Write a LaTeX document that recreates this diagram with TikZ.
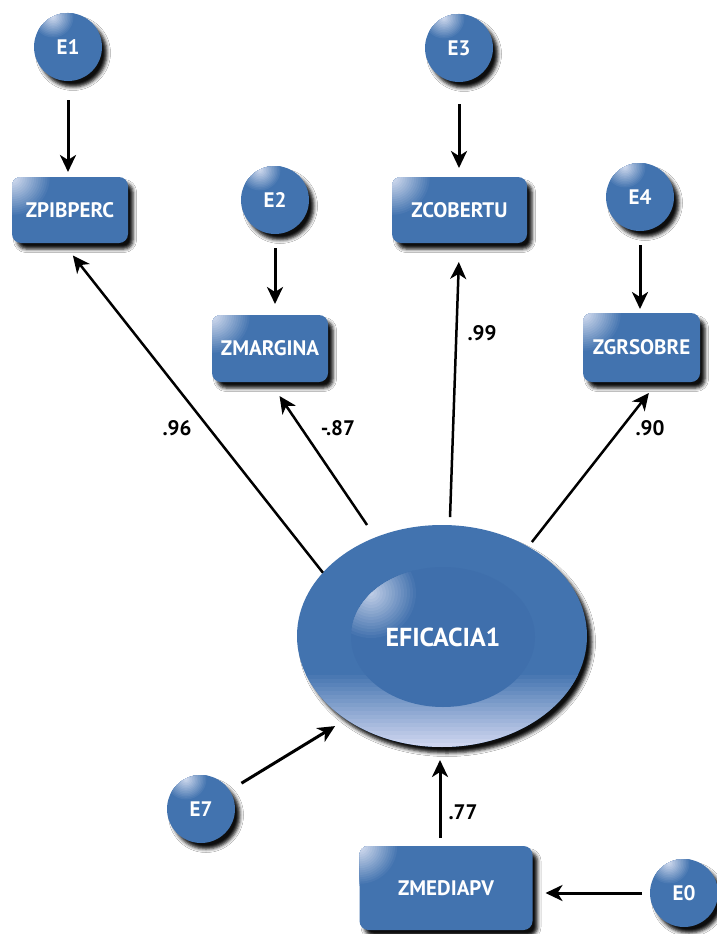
\documentclass[tikz,border=0pt]{standalone}
\usepackage{fontspec}
\setmainfont{PT Sans}
\usetikzlibrary{shapes.geometric, arrows.meta, shadows.blur, calc}
\definecolor{semblue}{RGB}{66,115,175}
\definecolor{hlc}{RGB}{232,235,248}
\definecolor{lavc}{RGB}{206,213,239}
\definecolor{innerblue}{RGB}{63,111,172}
\begin{document}
\begin{tikzpicture}[x=1pt, y=-1pt,
  shd/.style={blur shadow={shadow xshift=5pt, shadow yshift=-6pt, shadow blur radius=3.5pt, shadow opacity=95}},
  obs/.style={rectangle, rounded corners=9pt, fill=semblue, text=white,
    font=\bfseries\fontsize{21}{21}\selectfont, inner sep=0pt, outer sep=0pt, shd,
    path picture={\foreach \k in {0,...,17}{
        \pgfmathsetmacro\pct{95*\k/18}
        \pgfmathsetmacro\rad{40*(1-\k/18)}
        \fill[hlc!\pct!semblue] (path picture bounding box.north west) circle (\rad pt);}}},
  err/.style={circle, fill=semblue, minimum size=68pt, inner sep=0pt, outer sep=0pt, text=white,
    font=\bfseries\fontsize{21}{21}\selectfont, shd,
    path picture={\foreach \k in {0,...,13}{
        \pgfmathsetmacro\pct{90*\k/14}
        \pgfmathsetmacro\rad{22*(1-\k/14)}
        \fill[hlc!\pct!semblue] ([xshift=-15pt,yshift=30pt]path picture bounding box.center) circle (\rad pt);}}},
  coef/.style={font=\bfseries\fontsize{21}{21}\selectfont, text=black, inner sep=0pt},
  arr/.style={-{Stealth[length=17pt, width=16pt, inset=5pt]}, line width=3pt}
]
\fill[white] (0,0) rectangle (717,934);
\useasboundingbox (0,0) rectangle (717,934);

% outer latent ellipse
\node[ellipse, minimum width=290pt, minimum height=222pt, inner sep=0pt, outer sep=0pt, fill=semblue, shd,
  path picture={\foreach \k in {0,...,17}{
      \pgfmathsetmacro\pct{100-100*\k/18}
      \fill[lavc!\pct!semblue] ([yshift=\k*4pt]path picture bounding box.south west) rectangle ([yshift=\k*4pt+4.4pt]path picture bounding box.south east);}}]
  (ell) at (442,636) {};
\node[ellipse, minimum width=184pt, minimum height=140pt, inner sep=0pt, outer sep=0pt, fill=innerblue, text=white,
  font=\bfseries\fontsize{26}{26}\selectfont,
  path picture={\foreach \k in {0,...,15}{
      \pgfmathsetmacro\pct{80*\k/16}
      \pgfmathsetmacro\rad{48*(1-\k/16)}
      \fill[hlc!\pct!innerblue] ([xshift=-72pt,yshift=44pt]path picture bounding box.center) circle (\rad pt);}}]
  (eff) at (443,637) {EFICACIA1};

% observed variables
\node[obs, minimum width=116pt, minimum height=66pt] (zpib) at (70,210) {ZPIBPERC};
\node[obs, minimum width=116pt, minimum height=67pt] (zmarg) at (270,348.5) {ZMARGINA};
\node[obs, minimum width=135pt, minimum height=66pt] (zcob) at (459.5,210) {ZCOBERTU};
\node[obs, minimum width=117pt, minimum height=69pt] (zgrs) at (641.5,347.5) {ZGRSOBRE};
\node[obs, minimum width=173pt, minimum height=84pt] (zmed) at (446,888) {ZMEDIAPV};

% error terms
\node[err] (e1) at (68,47) {E1};
\node[err] (e2) at (275,200) {E2};
\node[err] (e3) at (459,48) {E3};
\node[err] (e4) at (640,197) {E4};
\node[err] (e7) at (201,809) {E7};
\node[err] (e0) at (684,893) {E0};

% error arrows
\draw[arr, shorten <=19pt, shorten >=5pt] (e1.south) -- (e1.south |- zpib.north);
\draw[arr, shorten <=14pt, shorten >=11pt] (e2.south) -- (e2.south |- zmarg.north);
\draw[arr, shorten <=22pt, shorten >=9pt] (e3.south) -- (e3.south |- zcob.north);
\draw[arr, shorten <=14pt, shorten >=4pt] (e4.south) -- (e4.south |- zgrs.north);
\draw[arr, shorten <=14pt, shorten >=13pt] (e7.33) -- (ell.221);
\draw[arr, shorten <=8pt, shorten >=13pt] (e0.west) -- (e0.west -| zmed.east);

% loadings
\draw[arr, line width=2.5pt, shorten >=16pt] (ell.152) -- ([xshift=-7pt]zpib.south);
\draw[arr, line width=2.5pt, shorten <=15pt, shorten >=17pt] (ell.124) -- (zmarg.south);
\draw[arr, line width=2.5pt, shorten <=8pt, shorten >=19pt] (ell.86) -- (zcob.south);
\draw[arr, line width=2.5pt, shorten <=6pt, shorten >=14pt] (ell.46) -- ([xshift=16pt]zgrs.south);
\draw[arr, shorten <=8pt, shorten >=13pt] ([xshift=-6pt]zmed.north) -- ([xshift=-6pt]zmed.north |- ell.south);

% coefficients
\node[coef] (c1) at (177,428) {.96};
\node[coef] (c2) at (338,428) {-.87};
\node[coef] (c3) at (482,333) {.99};
\node[coef] (c4) at (650,428) {.90};
\node[coef] (c5) at (463,812) {.77};
\end{tikzpicture}
\end{document}
